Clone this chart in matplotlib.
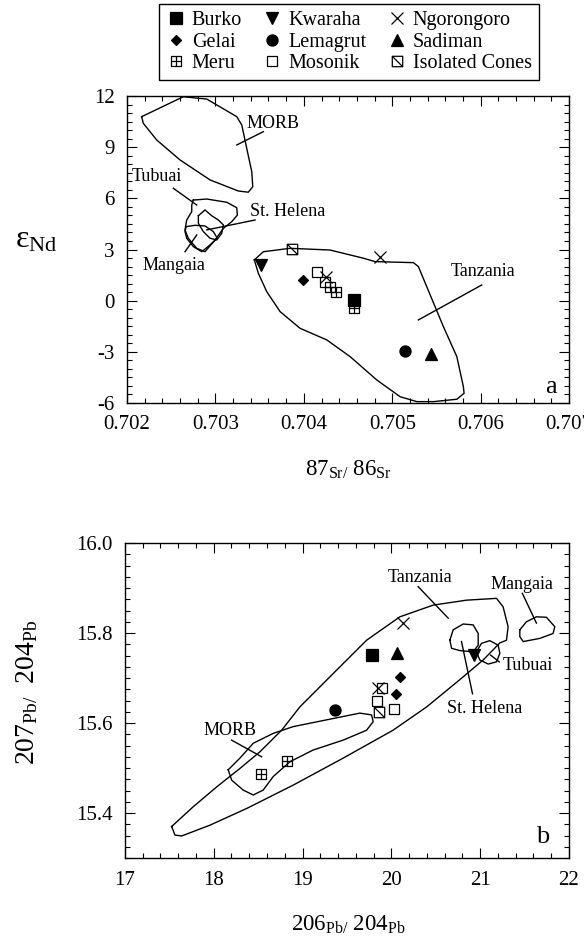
import matplotlib
matplotlib.use("Agg")
import matplotlib.pyplot as plt
from matplotlib.lines import Line2D
from matplotlib.path import Path
from matplotlib.ticker import MultipleLocator

plt.rcParams["font.family"] = ["Liberation Serif", "DejaVu Serif"]
plt.rcParams["mathtext.fontset"] = "custom"
plt.rcParams["mathtext.rm"] = "Liberation Serif"
plt.rcParams["mathtext.it"] = "Liberation Serif:italic"
plt.rcParams["axes.unicode_minus"] = False

# ---- panel a: eps Nd vs 87Sr/86Sr ----
sr_burko = [0.70457]
nd_burko = [0.05]
sr_kwaraha = [0.70352]
nd_kwaraha = [2.1]
sr_ngoro = [0.70486, 0.70425]
nd_ngoro = [2.55, 1.4]
sr_gelai = [0.70399]
nd_gelai = [1.2]
sr_lemagrut = [0.70514]
nd_lemagrut = [-2.95]
sr_sadiman = [0.70544]
nd_sadiman = [-3.1]
sr_meru = [0.70430, 0.70436, 0.70457]
nd_meru = [0.8, 0.5, -0.45]
sr_mosonik = [0.70415, 0.70424]
nd_mosonik = [1.7, 1.1]
sr_cones = [0.70387]
nd_cones = [3.05]

# field outlines, panel a
morb_a_x = [0.702166, 0.702637, 0.702902, 0.703241, 0.703298, 0.703354, 0.703411, 0.703422,
            0.703372, 0.703259, 0.702939, 0.702600, 0.702336, 0.702184, 0.702166]
morb_a_y = [10.79, 11.96, 11.82, 10.79, 10.30, 8.93, 7.56, 6.68, 6.36, 6.43, 7.08, 8.25, 9.42, 10.40, 10.79]
tubuai_a_x = [0.702750, 0.702902, 0.703128, 0.703241, 0.703248, 0.703184, 0.703090, 0.702995,
              0.702882, 0.702788, 0.702693, 0.702656, 0.702675, 0.702732, 0.702732, 0.702750]
tubuai_a_y = [5.90, 5.96, 5.77, 5.45, 5.02, 4.63, 4.24, 3.56, 2.87, 3.07, 3.66, 4.15, 4.73, 5.22, 5.61, 5.90]
helena_a_x = [0.702807, 0.702882, 0.702958, 0.703033, 0.703090, 0.703071, 0.703015, 0.702939,
              0.702863, 0.702807, 0.702807]
helena_a_y = [4.98, 5.32, 4.98, 4.73, 4.44, 3.95, 3.56, 3.66, 4.05, 4.54, 4.98]
mangaia_a_x = [0.702667, 0.702769, 0.702882, 0.702976, 0.703022, 0.702939, 0.702845, 0.702750,
               0.702675, 0.702656, 0.702667]
mangaia_a_y = [4.34, 4.42, 4.38, 4.05, 3.66, 3.27, 2.87, 3.17, 3.66, 4.05, 4.34]
tanz_a_x = [0.703440, 0.703542, 0.703844, 0.704296, 0.704673, 0.704805, 0.705239, 0.705295,
            0.705390, 0.705578, 0.705730, 0.705804, 0.705812, 0.705730, 0.705465, 0.705277,
            0.705088, 0.704825, 0.704523, 0.704259, 0.703957, 0.703731, 0.703580, 0.703485,
            0.703440]
tanz_a_y = [2.39, 2.87, 3.07, 2.97, 2.49, 2.29, 2.23, 2.00, 0.82, -1.52, -3.28, -5.04, -5.43,
            -5.78, -5.92, -5.92, -5.63, -4.65, -3.28, -2.30, -1.62, -0.64, 0.53, 1.61, 2.39]

# ---- panel b: 207Pb/204Pb vs 206Pb/204Pb ----
pb6_burko = [19.78]
pb7_burko = [15.752]
pb6_kwaraha = [20.93]
pb7_kwaraha = [15.752]
pb6_ngoro = [20.13, 19.855]
pb7_ngoro = [15.822, 15.677]
pb6_gelai = [20.10, 20.05]
pb7_gelai = [15.703, 15.665]
pb6_lemagrut = [19.365]
pb7_lemagrut = [15.628]
pb6_sadiman = [20.06]
pb7_sadiman = [15.755]
pb6_meru = [18.53, 18.83]
pb7_meru = [15.487, 15.515]
pb6_mosonik = [19.90, 19.84, 20.03]
pb7_mosonik = [15.677, 15.650, 15.632]
pb6_cones = [19.865]
pb7_cones = [15.625]

tanz_b_x = [17.526, 17.769, 18.033, 18.295, 18.520, 18.765, 18.971, 19.346, 19.722, 20.097,
            20.472, 20.848, 21.186, 21.260, 21.316, 21.298, 21.223, 21.035, 20.77, 20.40,
            20.02, 19.458, 18.895, 18.370, 17.957, 17.639, 17.563, 17.526]
tanz_b_y = [15.370, 15.414, 15.458, 15.499, 15.536, 15.584, 15.636, 15.710, 15.784, 15.836,
            15.862, 15.873, 15.877, 15.858, 15.814, 15.784, 15.778, 15.740, 15.696, 15.636,
            15.584, 15.522, 15.462, 15.410, 15.373, 15.349, 15.351, 15.370]
morb_b_x = [18.163, 18.295, 18.445, 18.670, 18.895, 19.271, 19.646, 19.778, 19.796, 19.722,
            19.458, 19.120, 18.858, 18.670, 18.557, 18.445, 18.332, 18.202, 18.163]
morb_b_y = [15.496, 15.522, 15.555, 15.577, 15.592, 15.607, 15.622, 15.618, 15.603, 15.584,
            15.562, 15.540, 15.514, 15.481, 15.451, 15.440, 15.451, 15.473, 15.496]
mangaia_b_x = [21.448, 21.523, 21.635, 21.748, 21.842, 21.823, 21.673, 21.486, 21.448, 21.448]
mangaia_b_y = [15.807, 15.825, 15.836, 15.835, 15.814, 15.799, 15.788, 15.781, 15.792, 15.807]
helena_b_x = [20.660, 20.697, 20.810, 20.922, 20.979, 20.979, 20.922, 20.773, 20.679, 20.660]
helena_b_y = [15.784, 15.807, 15.820, 15.818, 15.799, 15.773, 15.758, 15.761, 15.766, 15.784]
tubuai_b_x = [20.959, 21.016, 21.110, 21.204, 21.223, 21.186, 21.092, 20.998, 20.959]
tubuai_b_y = [15.758, 15.777, 15.783, 15.773, 15.755, 15.736, 15.731, 15.740, 15.758]

# custom markers: boxed plus (Meru) and boxed diagonal (Isolated Cones)
M, L, C = Path.MOVETO, Path.LINETO, Path.CLOSEPOLY
meru_marker = Path([(-1, -1), (1, -1), (1, 1), (-1, 1), (-1, -1), (0, -1), (0, 1), (-1, 0), (1, 0)],
                   [M, L, L, L, C, M, L, M, L])
cones_marker = Path([(-1, -1), (1, -1), (1, 1), (-1, 1), (-1, -1), (-1, 1), (1, -1)],
                    [M, L, L, L, C, M, L])

styles = {
    "Burko": dict(marker="s", ms=8, mfc="black", mec="black"),
    "Gelai": dict(marker="D", ms=5.5, mfc="black", mec="black"),
    "Meru": dict(marker=meru_marker, ms=7.5, mfc="none", mec="black"),
    "Kwaraha": dict(marker="v", ms=8, mfc="black", mec="black"),
    "Lemagrut": dict(marker="o", ms=8, mfc="black", mec="black"),
    "Mosonik": dict(marker="s", ms=7.5, mfc="none", mec="black"),
    "Ngorongoro": dict(marker="x", ms=8, mfc="none", mec="black"),
    "Sadiman": dict(marker="^", ms=8, mfc="black", mec="black"),
    "Isolated Cones": dict(marker=cones_marker, ms=7.5, mfc="none", mec="black"),
}

fig = plt.figure(figsize=(5.84, 9.46), dpi=100)
ax1 = fig.add_axes([0.2175, 0.574, 0.757, 0.3245])
ax2 = fig.add_axes([0.214, 0.093, 0.760, 0.333])

line_kw = dict(color="black", lw=1.0)
ann_fs = 13

# panel a fields
for fx, fy in [(morb_a_x, morb_a_y), (tubuai_a_x, tubuai_a_y), (helena_a_x, helena_a_y),
               (mangaia_a_x, mangaia_a_y), (tanz_a_x, tanz_a_y)]:
    ax1.plot(fx, fy, **line_kw)

pts_a = [("Burko", sr_burko, nd_burko), ("Kwaraha", sr_kwaraha, nd_kwaraha),
         ("Ngorongoro", sr_ngoro, nd_ngoro), ("Gelai", sr_gelai, nd_gelai),
         ("Lemagrut", sr_lemagrut, nd_lemagrut), ("Sadiman", sr_sadiman, nd_sadiman),
         ("Meru", sr_meru, nd_meru), ("Mosonik", sr_mosonik, nd_mosonik),
         ("Isolated Cones", sr_cones, nd_cones)]
for name, xs, ys in pts_a:
    ax1.plot(xs, ys, ls="none", mew=0.9, **styles[name])

# panel a labels + leaders
ax1.text(0.703655, 10.40, "MORB", fontsize=ann_fs, ha="center", va="center")
ax1.plot([0.703542, 0.703241], [9.91, 9.13], **line_kw)
ax1.text(0.702053, 7.27, "Tubuai", fontsize=ann_fs, ha="left", va="center")
ax1.plot([0.702524, 0.702788], [6.59, 5.61], **line_kw)
ax1.text(0.703392, 5.22, "St. Helena", fontsize=ann_fs, ha="left", va="center")
ax1.plot([0.703448, 0.702902], [4.73, 4.15], **line_kw)
ax1.text(0.702534, 2.09, "Mangaia", fontsize=ann_fs, ha="center", va="center")
ax1.plot([0.702656, 0.702788], [2.87, 3.85], **line_kw)
ax1.text(0.706031, 1.70, "Tanzania", fontsize=ann_fs, ha="center", va="center")
ax1.plot([0.706012, 0.705295], [0.92, -1.13], **line_kw)
ax1.text(0.70680, -5.04, "a", fontsize=19, ha="center", va="center")

ax1.set_xlim(0.702, 0.707)
ax1.set_ylim(-6, 12)
ax1.xaxis.set_minor_locator(MultipleLocator(0.0002))
ax1.yaxis.set_major_locator(MultipleLocator(3))
ax1.yaxis.set_minor_locator(MultipleLocator(0.5))
ax1.set_xticks([0.702, 0.703, 0.704, 0.705, 0.706, 0.707])
ax1.set_xticklabels(["0.702", "0.703", "0.704", "0.705", "0.706", "0.707"])

# panel b fields
for fx, fy in [(tanz_b_x, tanz_b_y), (morb_b_x, morb_b_y), (mangaia_b_x, mangaia_b_y),
               (helena_b_x, helena_b_y), (tubuai_b_x, tubuai_b_y)]:
    ax2.plot(fx, fy, **line_kw)

pts_b = [("Burko", pb6_burko, pb7_burko), ("Kwaraha", pb6_kwaraha, pb7_kwaraha),
         ("Ngorongoro", pb6_ngoro, pb7_ngoro), ("Gelai", pb6_gelai, pb7_gelai),
         ("Lemagrut", pb6_lemagrut, pb7_lemagrut), ("Sadiman", pb6_sadiman, pb7_sadiman),
         ("Meru", pb6_meru, pb7_meru), ("Mosonik", pb6_mosonik, pb7_mosonik),
         ("Isolated Cones", pb6_cones, pb7_cones)]
for name, xs, ys in pts_b:
    ax2.plot(xs, ys, ls="none", mew=0.9, **styles[name])

ax2.text(20.322, 15.924, "Tanzania", fontsize=ann_fs, ha="center", va="center")
ax2.plot([20.303, 20.641], [15.903, 15.833], **line_kw)
ax2.text(21.477, 15.907, "Mangaia", fontsize=ann_fs, ha="center", va="center")
ax2.plot([21.477, 21.635], [15.888, 15.822], **line_kw)
ax2.text(21.054, 15.633, "St. Helena", fontsize=ann_fs, ha="center", va="center")
ax2.plot([20.791, 20.915], [15.781, 15.665], **line_kw)
ax2.text(21.54, 15.727, "Tubuai", fontsize=ann_fs, ha="center", va="center")
ax2.plot([21.216, 21.118], [15.736, 15.751], **line_kw)
ax2.text(18.182, 15.583, "MORB", fontsize=ann_fs, ha="center", va="center")
ax2.plot([18.201, 18.539], [15.562, 15.525], **line_kw)
ax2.text(21.71, 15.347, "b", fontsize=19, ha="center", va="center")

ax2.set_xlim(17, 22)
ax2.set_ylim(15.3, 16.0)
ax2.xaxis.set_major_locator(MultipleLocator(1))
ax2.xaxis.set_minor_locator(MultipleLocator(0.2))
ax2.yaxis.set_minor_locator(MultipleLocator(0.025))
ax2.set_yticks([15.4, 15.6, 15.8, 16.0])
ax2.set_yticklabels(["15.4", "15.6", "15.8", "16.0"])

for ax in (ax1, ax2):
    ax.tick_params(which="both", direction="in", top=True, right=True, labelsize=15,
                   width=0.8, pad=9)
    ax.tick_params(which="major", length=7)
    ax.tick_params(which="minor", length=3.5)
    for sp in ax.spines.values():
        sp.set_linewidth(1.0)

# axis titles
fig.text(0.062, 0.746, r"$\mathregular{\varepsilon_{Nd}}$", fontsize=23, ha="center", va="center")
fig.text(0.596, 0.503, r"$\mathregular{87_{Sr/}\ 86_{Sr}}$", fontsize=16.5, ha="center", va="center")
fig.text(0.047, 0.2685, r"$\mathregular{207_{Pb/}\ \ 204_{Pb}}$", fontsize=20, ha="center",
         va="center", rotation=90)
fig.text(0.596, 0.022, r"$\mathregular{206_{Pb/}\ 204_{Pb}}$", fontsize=16.5, ha="center", va="center")

# legend, 3 columns (matplotlib fills column by column)
order = ["Burko", "Gelai", "Meru", "Kwaraha", "Lemagrut", "Mosonik",
         "Ngorongoro", "Sadiman", "Isolated Cones"]
handles = [Line2D([], [], ls="none", mew=0.9, **styles[n]) for n in order]
leg = fig.legend(handles, order, ncol=3, loc="center", bbox_to_anchor=(0.597, 0.9556),
                 fontsize=14.5, frameon=True, fancybox=False, edgecolor="black", framealpha=1,
                 handletextpad=0.3, columnspacing=1.0, labelspacing=0.12, borderpad=0.35,
                 handlelength=1.0)
leg.get_frame().set_linewidth(1.0)

fig.savefig("out.png", dpi=100)
